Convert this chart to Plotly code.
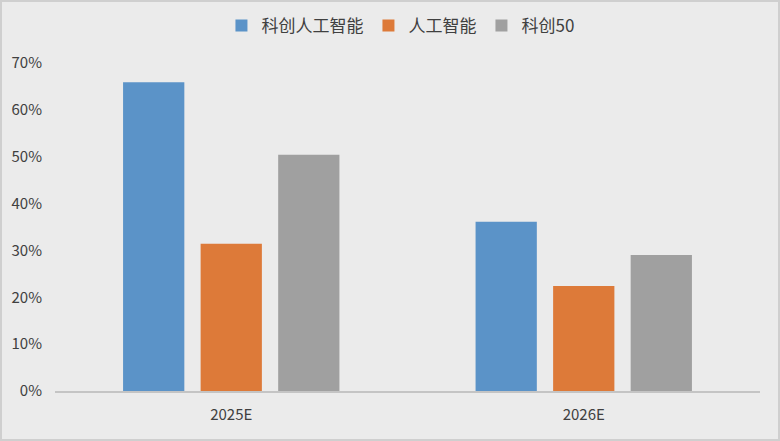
import plotly.graph_objects as go

categories = ["2025E", "2026E"]
series_names = ["科创人工智能", "人工智能", "科创50"]
kc_ai = [0.659, 0.361]
ai = [0.314, 0.224]
kc50 = [0.504, 0.290]
colors = ["#5b93c8", "#dd7a39", "#a0a0a0"]

fig = go.Figure()
for name, vals, c in zip(series_names, [kc_ai, ai, kc50], colors):
    fig.add_trace(go.Bar(x=categories, y=vals, name=name, marker_color=c,
                         marker_line_width=0))

W, H = 780, 441
ml, mr, mt, mb = 55, 20, 63, 50
pw, ph = W - ml - mr, H - mt - mb

fig.update_layout(
    width=W, height=H,
    margin=dict(l=ml, r=mr, t=mt, b=mb, autoexpand=False),
    paper_bgcolor="#ebebeb",
    plot_bgcolor="#ebebeb",
    barmode="group",
    bargap=0.34,
    bargroupgap=0.21,
    font=dict(family="Noto Sans CJK SC", color="#404040", size=15),
    legend=dict(orientation="h", x=0.49, xanchor="center", y=1 + 37 / ph,
                yanchor="middle", font=dict(size=17, color="#404040"),
                bgcolor="rgba(0,0,0,0)", itemwidth=30, traceorder="normal"),
    xaxis=dict(showline=True, linecolor="#c4c4c4", linewidth=2, ticks="",
               showgrid=False, tickfont=dict(size=15), ticklabelstandoff=9,
               automargin=False),
    yaxis=dict(range=[0, 0.7], dtick=0.1, tickformat=".0%", showgrid=False,
               zeroline=False, showline=False, ticks="", tickfont=dict(size=15),
               ticklabelstandoff=12, automargin=False),
)

# outer border of the picture
fig.add_shape(type="rect", xref="paper", yref="paper",
              x0=-(ml - 1) / pw, x1=1 + (mr - 1) / pw,
              y0=-(mb - 1) / ph, y1=1 + (mt - 1) / ph,
              line=dict(color="#cfcfcf", width=2), fillcolor="rgba(0,0,0,0)")

fig.write_html("out.html", config={"displayModeBar": False},
               post_script="document.body.style.margin='0';")
